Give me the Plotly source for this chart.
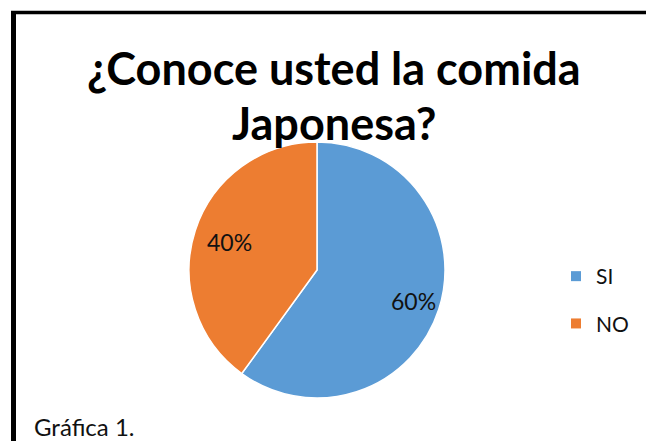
import math
import plotly.graph_objects as go

labels = ["SI", "NO"]
values = [60, 40]
colors = ["#5B9BD5", "#ED7D31"]
title_lines = ["¿Conoce usted la comida", "Japonesa?"]
caption = "Gráfica 1."

W, H = 646, 441
cx, cy, R = 317, 270, 128
label_r = [0.79, 0.72]  # style: radial label placement per slice

fig = go.Figure()
fig.add_trace(go.Pie(
    labels=labels, values=values, sort=False, direction="clockwise", rotation=0,
    marker=dict(colors=colors, line=dict(color="white", width=1.5)),
    textinfo="none", showlegend=False, hoverinfo="skip",
    domain=dict(x=[(cx-R)/W, (cx+R)/W], y=[(H-cy-R)/H, (H-cy+R)/H]),
))
# legend entries
for lab, col in zip(labels, colors):
    fig.add_trace(go.Scatter(x=[None], y=[None], mode="markers", name=lab, legendgroup=lab,
                             marker=dict(symbol="square", size=10, color=col)))

annotations = [
    dict(text="<b>" + title_lines[0] + "</b>", x=334/W, y=(H-68)/H, xref="paper", yref="paper",
         showarrow=False, font=dict(family="Lato", size=45, color="black"), xanchor="center", yanchor="middle"),
    dict(text="<b>" + title_lines[1] + "</b>", x=334/W, y=(H-123)/H, xref="paper", yref="paper",
         showarrow=False, font=dict(family="Lato", size=45, color="black"), xanchor="center", yanchor="middle"),
    dict(text=caption, x=33/W, y=(H-426)/H, xref="paper", yref="paper", borderpad=0,
         showarrow=False, font=dict(family="Lato", size=24, color="#111111"), xanchor="left", yanchor="middle"),
]
total = sum(values)
start = 0.0
for v, f in zip(values, label_r):
    mid = start + v / total * 360 / 2
    start += v / total * 360
    a = math.radians(mid)
    px = cx + f * R * math.sin(a)
    py = cy - f * R * math.cos(a)
    annotations.append(dict(text=f"{round(v/total*100)}%", x=px/W, y=(H-py)/H, xref="paper", yref="paper",
                            showarrow=False, font=dict(family="Lato", size=23, color="#111111"),
                            xanchor="center", yanchor="middle"))

fig.update_layout(
    width=W, height=H, margin=dict(l=0, r=0, t=0, b=0),
    paper_bgcolor="white", plot_bgcolor="white",
    xaxis=dict(visible=False), yaxis=dict(visible=False),
    legend=dict(x=556/W, y=(H-256)/H, xanchor="left", yanchor="top",
                font=dict(family="Lato", size=21, color="#111111"),
                itemwidth=30, tracegroupgap=17, bgcolor="rgba(0,0,0,0)"),
    shapes=[
        dict(type="line", xref="paper", yref="paper", x0=13.5/W, x1=13.5/W, y0=(H-12)/H, y1=-0.1,
             line=dict(color="black", width=5)),
        dict(type="line", xref="paper", yref="paper", x0=11/W, x1=1.1, y0=(H-12.5)/H, y1=(H-12.5)/H,
             line=dict(color="black", width=3.5)),
    ],
    annotations=annotations,
)
fig.write_html("out.html")
